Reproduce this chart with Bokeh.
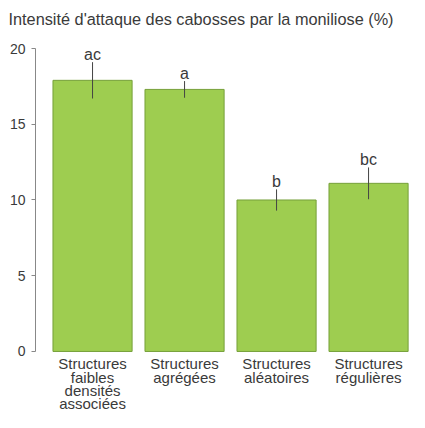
from bokeh.plotting import figure
from bokeh.models import Range1d, FixedTicker, ColumnDataSource
from bokeh.core.properties import value
from bokeh.embed import file_html
from bokeh.resources import INLINE

categories = ["Structures\nfaibles\ndensités\nassociées",
              "Structures\nagrégées",
              "Structures\naléatoires",
              "Structures\nrégulières"]
means = [17.9, 17.3, 10.0, 11.1]
errors = [1.2, 0.55, 0.7, 1.05]
letters = ["ac", "a", "b", "bc"]
y_ticks = [0, 5, 10, 15, 20]

FONT = "Liberation Sans"
TXT = "#3a3a3a"

xs = [i + 1 for i in range(len(categories))]
src = ColumnDataSource(dict(
    x=xs, top=means,
    lo=[m - e for m, e in zip(means, errors)],
    hi=[m + e for m, e in zip(means, errors)],
    lab=letters,
    cat=categories,
    base=[0] * len(categories),
))

p = figure(width=409, height=412, output_backend="svg", toolbar_location=None,
           x_range=Range1d(0.380, 4.445), y_range=Range1d(-4.03, 21.19),
           x_axis_location=None, min_border=0,
           min_border_left=35, min_border_right=0, min_border_top=30,
           min_border_bottom=0,
           title="Intensité d'attaque des cabosses par la moniliose (%)")
p.title.text_font = FONT
p.title.text_font_size = "16.3px"
p.title.text_font_style = "normal"
p.title.text_color = TXT
p.title.align = "left"
p.title.offset = -27
p.title.standoff = 5

p.vbar(x="x", top="top", bottom=0, width=0.86, source=src,
       fill_color="#9ecd50", line_color="#76a03a", line_width=1)
p.segment(x0="x", y0="lo", x1="x", y1="hi", source=src,
          line_color="#444444", line_width=1)
p.text(x="x", y="hi", text="lab", source=src, text_align="center",
       text_baseline="alphabetic", y_offset=-8,
       text_font=value(FONT), text_font_size="16px", text_color=TXT)
# category labels under the bars
p.text(x="x", y="base", text="cat", source=src, text_align="center",
       text_baseline="top", y_offset=4, text_line_height=0.78,
       text_font=value(FONT), text_font_size="15px", text_color=TXT)

p.outline_line_color = None
p.xgrid.grid_line_color = None
p.ygrid.grid_line_color = None
p.background_fill_color = "white"
p.border_fill_color = "white"

ya = p.yaxis[0]
ya.ticker = FixedTicker(ticks=y_ticks)
ya.bounds = (0, 20)
ya.minor_tick_line_color = None
ya.major_tick_in = 0
ya.major_tick_out = 4
ya.axis_line_color = "#888888"
ya.major_tick_line_color = "#888888"
ya.major_label_text_font = FONT
ya.major_label_text_font_size = "14px"
ya.major_label_text_color = TXT
ya.major_label_standoff = 6

open("out.html", "w").write(file_html(p, INLINE))
